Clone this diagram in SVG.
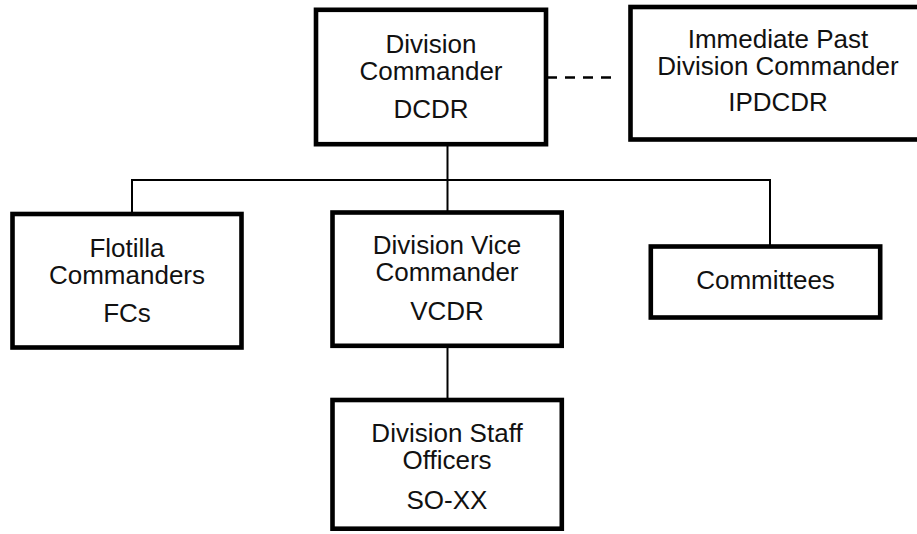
<svg xmlns="http://www.w3.org/2000/svg" width="917" height="534" viewBox="0 0 917 534">
<style>
.box{fill:#fff;stroke:#000;stroke-width:4.6}
.ln{fill:none;stroke:#000;stroke-width:2}
.dash{fill:none;stroke:#000;stroke-width:2.4;stroke-dasharray:10 8}
text{font-family:"Liberation Sans",Arial,sans-serif;font-size:26px;fill:#111;text-anchor:middle}
</style>
<rect width="917" height="534" fill="#fff"/>
<g id="connectors">
<path class="ln" d="M447.5 146V400"/>
<path class="ln" d="M132 212V180H770V246"/>
<path class="dash" d="M547 77.5H612"/>
</g>
<g id="dcdr">
<rect class="box" x="316" y="9.8" width="230" height="134.4"/>
<text x="431" y="53">Division</text>
<text x="431" y="80">Commander</text>
<text x="431" y="118">DCDR</text>
</g>
<g id="ipdcdr">
<rect class="box" x="630.5" y="7" width="295" height="132.5"/>
<text x="778" y="48">Immediate Past</text>
<text x="778" y="75">Division Commander</text>
<text x="778" y="111">IPDCDR</text>
</g>
<g id="fcs">
<rect class="box" x="12.5" y="214" width="229" height="133.5"/>
<text x="127" y="257">Flotilla</text>
<text x="127" y="283.5">Commanders</text>
<text x="127" y="321.5">FCs</text>
</g>
<g id="vcdr">
<rect class="box" x="332.5" y="212.5" width="229.2" height="133.3"/>
<text x="447" y="254">Division Vice</text>
<text x="447" y="281">Commander</text>
<text x="447" y="320">VCDR</text>
</g>
<g id="committees">
<rect class="box" x="650.8" y="246.5" width="229.4" height="71"/>
<text x="765.5" y="288.5">Committees</text>
</g>
<g id="staff">
<rect class="box" x="332.5" y="400" width="229.3" height="128.7"/>
<text x="447" y="441.5">Division Staff</text>
<text x="447" y="469">Officers</text>
<text x="447" y="508.5">SO-XX</text>
</g>
</svg>
